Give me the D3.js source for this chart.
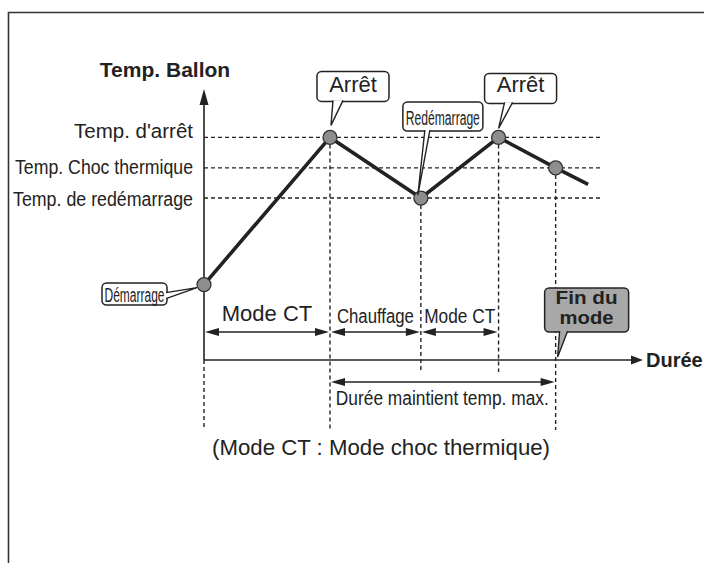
<!DOCTYPE html>
<html>
<head>
<meta charset="utf-8">
<script src="https://cdn.jsdelivr.net/npm/d3@7"></script>
<style>
  body { margin: 0; background: #fff; }
  text { font-family: "Liberation Sans", Arial, sans-serif; fill: #222; }
</style>
</head>
<body>
<script>
// temperature levels (arbitrary units)
var levelLabels = ["Temp. d'arrêt", "Temp. Choc thermique", "Temp. de redémarrage"];
var levelValues = [63.5, 54.8, 46.2];

// the tank temperature curve
var curveTimes = [0, 28.7, 49.4, 67.1, 80.1, 87.5];
var curveTemps = [21.5, 63.5, 46.2, 63.5, 54.8, 50.1];

// phases under the curve
var phaseLabels = ["Mode CT", "Chauffage", "Mode CT"];
var phaseBounds = [0, 28.7, 49.4, 67.1];

// hold duration
var holdLabel = "Durée maintient temp. max.";
var holdBounds = [28.7, 80.1];

var calloutLabels = ["Démarrage", "Arrêt", "Redémarrage", "Arrêt"];
var endLabel = ["Fin du", "mode"];
var endTime = 80.1;

var yTitle = "Temp. Ballon";
var xTitle = "Durée";
var note = "(Mode CT : Mode choc thermique)";

var W = 704, H = 563;
var ink = "#222";

var svg = d3.select("body").append("svg")
    .attr("width", W)
    .attr("height", H);

// frame
svg.append("path")
    .attr("d", "M8.5," + H + "V12.5H" + W)
    .attr("fill", "none")
    .attr("stroke", "#333")
    .attr("stroke-width", 1.6);

var x = d3.scaleLinear().domain([0, 100]).range([204, 643]);
var y = d3.scaleLinear().domain([0, 77.3]).range([360, 89]);

function arrowHead(g, px, py, dir, len, half) {
    // dir: "up", "right", "left"
    var pts;
    if (dir == "up") pts = [[px, py], [px - half, py + len], [px + half, py + len]];
    else if (dir == "right") pts = [[px, py], [px - len, py - half], [px - len, py + half]];
    else pts = [[px, py], [px + len, py - half], [px + len, py + half]];
    g.append("path")
        .attr("d", "M" + pts.map(function (p) { return p.join(","); }).join("L") + "Z")
        .attr("fill", ink);
}

// horizontal dashed level lines
svg.selectAll(".level")
    .data(levelValues)
    .enter()
    .append("line")
    .attr("class", "level")
    .attr("x1", x(0)).attr("x2", 600)
    .attr("y1", function (d) { return y(d); })
    .attr("y2", function (d) { return y(d); })
    .attr("stroke", ink)
    .attr("stroke-width", 1.4)
    .attr("stroke-dasharray", "4,3");

// vertical dashed guides
var guideBottoms = [430, 430, 372, 372, 430];
svg.selectAll(".guide")
    .data(curveTimes.slice(0, 5))
    .enter()
    .append("line")
    .attr("class", "guide")
    .attr("x1", function (d) { return x(d); })
    .attr("x2", function (d) { return x(d); })
    .attr("y1", function (d, i) { return i == 0 ? y(0) : y(curveTemps[i]); })
    .attr("y2", function (d, i) { return guideBottoms[i]; })
    .attr("stroke", ink)
    .attr("stroke-width", 1.4)
    .attr("stroke-dasharray", "4,3");

// y axis
var yAxis = d3.axisLeft(y)
    .tickValues(levelValues)
    .tickFormat(function (d, i) { return levelLabels[i]; })
    .tickSize(0)
    .tickPadding(11);

var yAxis_g = svg.append("g")
    .attr("transform", "translate(" + x(0) + ",0)")
    .call(yAxis);
yAxis_g.select(".domain").remove();
var labelSizes = [20.5, 20, 20];
var labelLengths = [null, 178, 180];
var labelShift = [0.5, 5.5, 7];
yAxis_g.selectAll(".tick text")
    .attr("dy", function (d, i) { return labelShift[i]; })
    .style("font-size", function (d, i) { return labelSizes[i] + "px"; })
    .style("font-family", "Liberation Sans, Arial, sans-serif")
    .attr("fill", ink)
    .each(function (d, i) {
        if (labelLengths[i]) d3.select(this)
            .attr("textLength", labelLengths[i])
            .attr("lengthAdjust", "spacingAndGlyphs");
    });

svg.append("line")
    .attr("x1", x(0)).attr("x2", x(0))
    .attr("y1", y(0)).attr("y2", y.range()[1] + 10)
    .attr("stroke", ink).attr("stroke-width", 1.6);
arrowHead(svg, x(0), y.range()[1], "up", 16, 4.5);

// x axis
var xAxis = d3.axisBottom(x).tickValues([]).tickSizeOuter(0);
svg.append("g")
    .attr("transform", "translate(0," + y(0) + ")")
    .call(xAxis)
    .select(".domain")
    .attr("stroke", ink)
    .attr("stroke-width", 1.6)
    .attr("d", "M" + x(0) + ",0H" + (x(100) - 8));
arrowHead(svg, x(100), y(0), "right", 12, 4.5);

svg.append("text")
    .attr("x", 165).attr("y", 77)
    .attr("text-anchor", "middle")
    .style("font-size", "21px")
    .style("font-weight", "bold")
    .text(yTitle);

svg.append("text")
    .attr("x", 646).attr("y", 367)
    .style("font-size", "20px")
    .style("font-weight", "bold")
    .text(xTitle);

// double arrows for phases
function span(g, a, b, yy) {
    g.append("line")
        .attr("x1", a + 6).attr("x2", b - 6)
        .attr("y1", yy).attr("y2", yy)
        .attr("stroke", ink).attr("stroke-width", 1.6);
    arrowHead(g, a + 1, yy, "left", 14, 4);
    arrowHead(g, b - 1, yy, "right", 14, 4);
}

var phaseSizes = [22, 20, 20];
var phaseLengths = [null, 77, 71];
var phaseBase = [321, 323, 323];
phaseLabels.forEach(function (lab, i) {
    var a = x(phaseBounds[i]), b = x(phaseBounds[i + 1]);
    span(svg, a, b, 332);
    var t = svg.append("text")
        .attr("x", (a + b) / 2)
        .attr("y", phaseBase[i])
        .attr("text-anchor", "middle")
        .style("font-size", phaseSizes[i] + "px")
        .text(lab);
    if (phaseLengths[i]) t.attr("textLength", phaseLengths[i]).attr("lengthAdjust", "spacingAndGlyphs");
});

span(svg, x(holdBounds[0]), x(holdBounds[1]), 382);
svg.append("text")
    .attr("x", (x(holdBounds[0]) + x(holdBounds[1])) / 2 - 0.5)
    .attr("y", 405)
    .attr("text-anchor", "middle")
    .style("font-size", "20px")
    .attr("textLength", 213)
    .attr("lengthAdjust", "spacingAndGlyphs")
    .text(holdLabel);

svg.append("text")
    .attr("x", 381).attr("y", 455)
    .attr("text-anchor", "middle")
    .style("font-size", "22px")
    .attr("textLength", 338)
    .attr("lengthAdjust", "spacingAndGlyphs")
    .text(note);

// the curve
var pts = curveTimes.map(function (t, i) { return [t, curveTemps[i]]; });
var line = d3.line()
    .x(function (d) { return x(d[0]); })
    .y(function (d) { return y(d[1]); });

svg.append("path")
    .datum(pts)
    .attr("d", line)
    .attr("fill", "none")
    .attr("stroke", ink)
    .attr("stroke-width", 3.6)
    .attr("stroke-linejoin", "miter");

svg.selectAll(".dot")
    .data(pts.slice(0, 5))
    .enter()
    .append("circle")
    .attr("class", "dot")
    .attr("cx", function (d) { return x(d[0]); })
    .attr("cy", function (d) { return y(d[1]); })
    .attr("r", 7)
    .attr("fill", "#8e8e8e")
    .attr("stroke", "#333")
    .attr("stroke-width", 1.3);

// callouts
function callout(ax, ay, box, base, tip, lines, opts) {
    var g = svg.append("g");
    g.append("rect")
        .attr("x", ax + box[0]).attr("y", ay + box[1])
        .attr("width", box[2]).attr("height", box[3])
        .attr("rx", 4.5)
        .attr("fill", opts.fill)
        .attr("stroke", ink)
        .attr("stroke-width", 1.5);
    var p1 = [ax + base[0][0], ay + base[0][1]],
        p2 = [ax + base[1][0], ay + base[1][1]],
        pt = [ax + tip[0], ay + tip[1]];
    g.append("path")
        .attr("d", "M" + p1 + "L" + pt + "L" + p2 + "Z")
        .attr("fill", opts.fill);
    g.append("path")
        .attr("d", "M" + p1 + "L" + pt + "L" + p2)
        .attr("fill", "none")
        .attr("stroke", ink)
        .attr("stroke-width", 1.4);
    lines.forEach(function (s, i) {
        var t = g.append("text")
            .attr("x", ax + box[0] + box[2] / 2)
            .attr("y", ay + opts.base[i])
            .attr("text-anchor", "middle")
            .style("font-size", opts.size + "px")
            .style("font-weight", opts.bold ? "bold" : "normal")
            .text(s);
        if (opts.len) t.attr("textLength", opts.len[i]).attr("lengthAdjust", "spacingAndGlyphs");
    });
}

var pX = function (i) { return x(curveTimes[i]); };
var pY = function (i) { return y(curveTemps[i]); };

callout(pX(0), pY(0), [-102, -1.6, 65, 22], [[-38, 8], [-38, 14]], [-7, 3],
    [calloutLabels[0]], { fill: "#fff", size: 20, len: [60], base: [17] });
callout(pX(1), pY(1), [-13, -66, 72, 30], [[3, -37], [13, -37]], [1, -12],
    [calloutLabels[1]], { fill: "#fff", size: 22, base: [-45] });
callout(pX(2), pY(2), [-18, -96, 80, 29], [[4, -68], [9, -68]], [-3, -3],
    [calloutLabels[2]], { fill: "#fff", size: 20, len: [74], base: [-73] });
callout(pX(3), pY(3), [-14, -64, 72, 30], [[6, -35], [14, -35]], [0, -9],
    [calloutLabels[3]], { fill: "#fff", size: 22, base: [-45] });
callout(x(endTime), y(0), [-11, -72, 84, 44], [[4, -29], [12, -29]], [2, -3],
    endLabel, { fill: "#a8a8a8", size: 17.5, bold: true, len: [62, 54], base: [-56, -36] });
</script>
</body>
</html>
